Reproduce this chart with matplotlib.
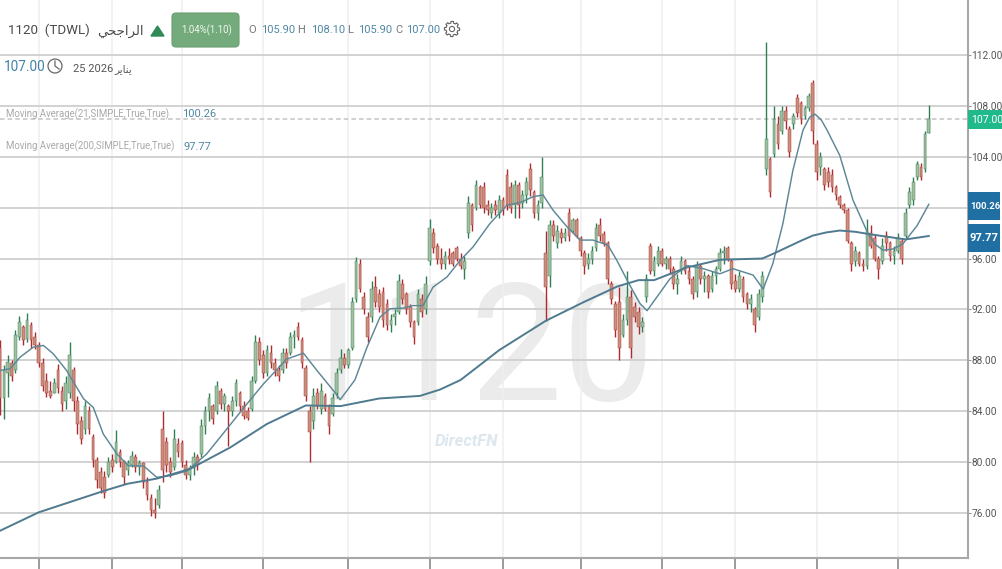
#chart screenshot recreation, tdwl 1120 candles with two moving averages
import matplotlib
matplotlib.use("Agg")
import matplotlib.pyplot as plt
from matplotlib.patches import Circle, FancyBboxPatch, Polygon, Rectangle
import numpy as np

plt.rcParams["font.family"] = ["Roboto", "DejaVu Sans"]

highs = [
    89.6, 87.6, 88.4, 88.0, 90.4, 91.5, 90.8, 91.7, 91.0, 90.2,
    89.4, 88.2, 87.0, 86.4, 86.6, 87.7, 86.0, 86.8, 89.4, 87.5,
    85.2, 83.6, 84.8, 84.4, 82.2, 80.4, 79.6, 79.3, 80.4, 80.6,
    82.5, 81.0, 80.2, 80.2, 80.9, 80.6, 80.2, 80.0, 78.8, 77.5,
    77.2, 78.2, 84.0, 82.0, 80.4, 82.6, 81.9, 81.7, 80.2, 79.8,
    80.8, 80.6, 83.4, 84.4, 85.4, 84.6, 86.4, 85.8, 85.4, 84.6,
    85.2, 86.5, 85.6, 84.8, 84.3, 86.8, 90.0, 89.8, 88.8, 89.2,
    89.2, 88.2, 87.6, 89.0, 89.0, 90.2, 90.4, 91.0, 89.8, 87.6,
    84.4, 85.8, 85.8, 86.2, 85.4, 84.6, 85.4, 87.4, 88.9, 88.6,
    89.0, 93.0, 96.1, 96.0, 93.4, 91.8, 94.2, 94.6, 93.6, 93.8,
    92.8, 91.6, 92.0, 94.8, 94.4, 93.4, 92.4, 91.2, 93.6, 93.2,
    94.6, 99.1, 98.4, 97.2, 96.8, 96.6, 96.8, 96.6, 97.0, 96.4,
    96.2, 100.9, 100.4, 102.2, 101.8, 102.0, 100.6, 100.4, 100.6, 101.0,
    100.8, 103.0, 102.0, 102.2, 102.0, 101.4, 102.4, 103.5, 101.4, 100.6,
    104.0, 98.2, 99.0, 99.0, 98.6, 98.4, 98.4, 100.0, 99.2, 99.2,
    97.8, 96.7, 96.4, 97.0, 98.8, 99.2, 98.2, 97.4, 94.2, 92.7,
    93.8, 91.6, 95.0, 93.5, 92.6, 92.2, 91.4, 94.8, 97.2, 96.2,
    97.0, 96.8, 96.2, 96.2, 95.4, 94.8, 96.2, 96.0, 95.4, 94.6,
    95.8, 95.6, 95.0, 94.8, 95.0, 95.4, 96.8, 97.0, 97.0, 96.0,
    94.8, 95.0, 94.6, 93.4, 93.2, 92.2, 93.6, 95.0, 113.0, 104.0,
    108.0, 107.2, 108.0, 108.0, 106.4, 107.4, 108.9, 108.4, 108.0, 109.0,
    110.0, 105.3, 104.4, 103.2, 103.2, 103.0, 101.8, 101.0, 100.4, 100.0,
    97.4, 97.0, 96.6, 96.0, 99.1, 98.6, 97.9, 96.2, 97.6, 98.2,
    97.4, 97.0, 98.0, 97.6, 100.0, 101.6, 102.4, 103.7, 103.5, 106.0, 108.1,
]
lows = [
    83.7, 83.4, 85.1, 86.4, 87.0, 89.6, 89.2, 89.4, 89.0, 88.9,
    87.5, 85.6, 85.1, 85.0, 85.4, 85.4, 84.0, 84.2, 85.0, 84.0,
    82.2, 81.4, 82.2, 82.2, 79.6, 78.0, 77.6, 77.2, 78.8, 79.2,
    79.9, 79.6, 78.3, 79.0, 79.6, 79.2, 79.0, 78.0, 77.0, 75.8,
    75.6, 76.4, 78.4, 79.2, 78.8, 79.4, 80.4, 79.6, 78.7, 78.6,
    79.0, 79.4, 80.4, 82.2, 83.2, 83.0, 83.8, 84.2, 84.0, 81.3,
    83.6, 84.4, 84.0, 83.4, 83.3, 84.0, 86.2, 87.6, 86.6, 86.8,
    87.4, 86.8, 86.4, 87.0, 87.4, 88.4, 89.0, 89.6, 87.4, 84.8,
    80.0, 82.6, 84.2, 83.8, 84.0, 82.2, 83.6, 85.0, 87.0, 87.4,
    87.4, 88.8, 92.6, 93.4, 91.6, 89.4, 91.0, 92.2, 91.8, 90.6,
    90.4, 90.2, 90.8, 91.6, 92.4, 91.6, 90.6, 89.3, 90.8, 91.4,
    91.6, 95.5, 96.4, 95.6, 95.2, 95.2, 95.6, 95.4, 95.8, 95.2,
    94.4, 97.6, 98.2, 99.8, 100.0, 99.6, 99.4, 99.2, 99.4, 99.2,
    99.4, 99.8, 99.6, 99.2, 99.2, 100.0, 100.4, 100.9, 99.2, 99.0,
    100.0, 91.1, 93.8, 97.4, 96.8, 97.2, 97.4, 97.4, 98.0, 97.6,
    96.2, 94.8, 95.2, 95.6, 96.6, 97.4, 97.0, 94.0, 92.4, 89.8,
    88.0, 89.8, 90.8, 88.2, 91.0, 90.1, 90.2, 92.6, 94.8, 94.6,
    95.4, 95.4, 95.2, 94.8, 93.6, 93.2, 94.8, 94.8, 94.0, 92.8,
    93.0, 94.0, 93.4, 92.9, 93.4, 94.0, 95.0, 95.6, 95.8, 93.6,
    93.4, 93.4, 92.6, 92.0, 91.8, 90.2, 91.2, 92.6, 102.6, 100.8,
    104.0, 104.6, 105.8, 106.2, 104.0, 106.2, 107.1, 106.6, 107.0, 107.6,
    105.0, 102.2, 102.6, 101.4, 101.6, 101.2, 100.6, 100.0, 99.6, 97.2,
    95.0, 95.4, 95.4, 95.0, 95.2, 96.8, 95.8, 94.4, 95.6, 96.6,
    95.8, 95.6, 96.4, 95.6, 97.6, 100.0, 100.2, 102.2, 102.2, 102.8, 105.9,
]
opens = [
    89.0, 85.0, 87.0, 87.8, 87.2, 89.8, 90.6, 89.7, 90.8, 89.8,
    89.2, 87.8, 86.4, 85.6, 85.4, 87.2, 85.6, 84.8, 85.4, 87.2,
    84.8, 83.2, 82.6, 84.0, 82.0, 80.2, 79.2, 78.8, 79.0, 80.2,
    80.0, 80.8, 80.0, 79.4, 79.8, 80.4, 79.6, 79.9, 78.4, 77.2,
    76.2, 76.6, 82.6, 81.6, 80.0, 79.6, 81.4, 81.5, 79.8, 79.0,
    79.5, 80.4, 80.6, 82.8, 84.0, 84.4, 84.0, 85.6, 84.6, 84.4,
    84.0, 84.8, 85.4, 84.4, 84.0, 84.2, 86.4, 89.4, 88.4, 87.0,
    88.6, 87.8, 87.2, 87.2, 88.6, 88.6, 89.8, 90.6, 89.6, 87.4,
    84.0, 83.2, 85.4, 84.2, 85.2, 84.4, 83.8, 85.4, 87.2, 88.2,
    87.6, 89.0, 92.8, 95.6, 93.0, 91.4, 91.4, 93.8, 93.2, 93.4,
    92.4, 90.8, 91.4, 91.8, 94.0, 93.2, 92.2, 91.0, 91.0, 92.8,
    92.0, 95.8, 98.0, 97.0, 96.0, 95.6, 96.2, 96.4, 96.8, 96.0,
    95.2, 98.0, 100.2, 100.0, 101.6, 101.6, 100.2, 99.6, 100.2, 99.6,
    100.6, 102.6, 101.6, 100.2, 101.8, 100.4, 101.0, 103.0, 101.2, 99.6,
    100.4, 96.4, 94.6, 98.6, 97.2, 98.0, 97.6, 99.6, 98.2, 99.0,
    97.6, 96.4, 95.6, 96.0, 96.8, 98.6, 97.9, 97.2, 94.0, 92.4,
    92.6, 90.0, 91.2, 93.0, 92.2, 91.8, 90.6, 93.0, 97.0, 95.0,
    95.6, 96.6, 95.6, 96.0, 95.2, 94.0, 95.0, 95.8, 95.0, 94.4,
    93.4, 95.4, 94.4, 94.6, 93.6, 94.6, 95.2, 96.4, 96.8, 95.8,
    94.2, 93.6, 94.4, 93.2, 92.4, 92.0, 91.4, 93.0, 103.0, 103.8,
    104.2, 106.6, 106.0, 107.6, 106.2, 106.6, 108.6, 108.2, 107.2, 107.8,
    109.8, 105.0, 103.2, 103.0, 102.8, 102.6, 101.6, 100.8, 100.2, 99.8,
    97.2, 95.8, 96.4, 95.6, 95.4, 98.0, 97.6, 96.0, 95.8, 97.8,
    97.2, 96.2, 96.6, 97.4, 97.8, 100.2, 100.6, 102.4, 103.2, 103.0, 105.9,
]
closes = [
    85.0, 87.2, 87.9, 86.8, 90.0, 91.0, 89.6, 91.2, 89.6, 89.2,
    87.8, 86.0, 85.4, 85.2, 86.2, 85.8, 84.6, 86.2, 88.4, 84.8,
    83.0, 81.8, 84.4, 82.6, 80.2, 78.6, 78.0, 77.6, 80.0, 79.6,
    81.6, 80.0, 78.8, 79.9, 80.5, 79.6, 79.9, 78.4, 77.4, 76.2,
    76.0, 77.8, 79.4, 79.8, 79.2, 81.8, 80.8, 80.0, 79.0, 79.5,
    80.4, 79.8, 82.8, 84.0, 85.0, 83.4, 86.0, 84.6, 85.2, 84.0,
    84.8, 86.2, 84.4, 83.6, 83.5, 86.4, 89.4, 88.0, 87.0, 88.8,
    87.8, 87.2, 86.8, 88.6, 87.8, 89.8, 90.0, 89.8, 87.8, 85.2,
    82.4, 85.2, 84.4, 85.6, 84.2, 82.8, 85.0, 87.0, 88.2, 87.6,
    88.8, 92.6, 95.8, 93.6, 92.0, 89.8, 93.6, 92.6, 92.2, 91.2,
    90.8, 91.2, 91.6, 94.2, 92.8, 92.0, 91.0, 89.8, 93.2, 91.8,
    94.0, 98.4, 96.8, 96.0, 95.6, 96.2, 96.0, 95.6, 96.0, 95.4,
    95.8, 100.4, 98.6, 101.8, 100.2, 100.0, 99.8, 100.0, 99.8, 100.6,
    99.8, 100.2, 100.0, 101.8, 100.2, 101.0, 102.0, 101.4, 99.6, 100.2,
    102.4, 93.8, 98.6, 97.8, 98.2, 97.6, 98.0, 97.8, 99.0, 97.8,
    96.6, 95.4, 96.0, 96.6, 98.4, 97.8, 97.2, 94.4, 92.8, 90.4,
    89.0, 91.2, 93.0, 89.0, 91.4, 90.6, 91.0, 94.4, 95.0, 95.8,
    96.6, 95.6, 96.0, 95.2, 94.0, 94.4, 95.8, 95.0, 94.4, 93.2,
    95.4, 94.4, 94.6, 93.4, 94.6, 95.2, 96.4, 96.6, 96.0, 94.0,
    93.6, 94.6, 93.0, 92.4, 92.8, 90.8, 93.2, 94.6, 105.4, 101.2,
    107.0, 105.0, 107.6, 106.8, 104.4, 107.2, 107.4, 107.0, 107.8, 108.8,
    106.0, 102.8, 104.0, 101.8, 102.0, 101.6, 101.0, 100.2, 99.8, 97.4,
    95.6, 96.6, 95.6, 95.4, 98.2, 97.0, 96.0, 95.2, 97.0, 97.2,
    96.2, 96.6, 97.6, 96.0, 99.6, 101.2, 102.0, 103.4, 102.4, 105.8, 107.0,
]

ma21_bars = [0, 2.6, 5.2, 8.6, 11.2, 13.8, 17.2, 21.6, 24.1, 26.7, 30.2, 33.2,
             37.1, 40.5, 44, 48.3, 53.4, 58.6, 63.8, 68.1, 74.1, 78.4, 81.9,
             86.2, 87.9, 91.7, 94.8, 98.2, 100.8, 104.1, 106.7, 109.3, 111.9,
             115.5, 118.9, 122.2, 126.6, 131, 134.4, 137.7, 140.3, 142.9,
             146.5, 149.9, 153.2, 157.1, 159.4, 162.3, 165.4, 167.2, 169.8,
             173.1, 177.5, 181.7, 186, 189.4, 194.6, 197.2, 199.7, 202.3,
             204.9, 207.5, 209.2, 210.6, 212.2, 213.7, 217, 220.4, 224.3,
             226.2, 228.2, 230.8, 233.3, 237, 240]
ma21_vals = [87.2, 87.33, 88.25, 89.03, 89.17, 88.5, 87.2, 84.97, 84.3, 82.2,
             80.64, 79.7, 79.7, 78.8, 78.93, 79.3, 80.64, 82.6, 84.57, 86.15,
             88.1, 88.56, 87.2, 85.6, 84.9, 86.45, 89.0, 91.4, 92.05, 92.1,
             92.3, 92.3, 93.75, 94.55, 95.85, 96.9, 98.75, 100.2, 100.4,
             100.85, 101.0, 99.8, 98.5, 97.45, 97.45, 97.05, 95.85, 94.15,
             92.45, 91.9, 93.0, 94.4, 95.45, 95.2, 94.8, 95.2, 94.7, 93.6,
             95.6, 98.75, 102.95, 106.1, 107.1, 107.35, 106.9, 106.1, 104.1,
             100.6, 97.95, 97.1, 96.65, 96.75, 97.15, 98.6, 100.26]
ma200_bars = [0, 10, 27, 33, 40.5, 49, 59.5, 69, 79, 88, 98, 108.5, 113.7, 119,
              129, 141, 151, 159.5, 165, 169, 177.5, 186, 197, 200, 203.5, 207,
              210, 213.5, 217, 221, 225, 234, 240]
ma200_vals = [74.6, 76.05, 77.75, 78.3, 78.7, 79.45, 81.15, 83.0, 84.45, 84.4,
              85.0, 85.2, 85.7, 86.45, 88.8, 91.1, 92.6, 93.8, 94.3, 94.3,
              95.3, 95.9, 96.0, 96.4, 96.9, 97.4, 97.8, 98.05, 98.2, 98.1,
              97.9, 97.5, 97.77]

price_ticks = [76, 80, 84, 88, 92, 96, 100, 104, 108, 112]
time_ticks = [10, 29, 47, 68, 90, 111, 130, 150, 171, 190, 211, 232]
last_price = 107.0

W, H = 1003, 569
AX_RIGHT, AX_BOTTOM = 968, 558
GRID = "#d2d2d2"
TEAL = "#4f87a3"

fig = plt.figure(figsize=(W / 100, H / 100), dpi=100)
ax = fig.add_axes([0, (H - AX_BOTTOM) / H, AX_RIGHT / W, AX_BOTTOM / H])
ax.set_xlim(0, AX_RIGHT / 3.87)
ax.set_ylim(72.46, 116.32)

#watermark sits under everything
ax.text(121.5, 84.9, "1120", fontsize=118, color="#ebebeb", ha="center",
        va="baseline", zorder=0)
ax.text(120.5, 81.3, "DirectFN", fontsize=12, color="#dde7ef", ha="center",
        va="baseline", style="italic", weight="bold", zorder=0)

#the 100.00 label is hidden behind the blue tag in the reference
ax.set_yticks(price_ticks)
ax.set_yticklabels(["" if p == 100 else f"{p:.2f}" for p in price_ticks],
                   fontsize=7.3, color="#555555")
ax.set_xticks(time_ticks)
ax.set_xticklabels([""] * len(time_ticks))
ax.yaxis.tick_right()
ax.tick_params(axis="y", length=2, width=0.8, color="#999999", pad=0.5)
ax.tick_params(axis="x", length=8, width=1.2, color="#8a8a8a")
ax.grid(True, axis="y", color=GRID, lw=1.4)
ax.grid(True, axis="x", color="#efefef", lw=1.1)
ax.set_axisbelow(True)
for side in ("top", "left"):
    ax.spines[side].set_visible(False)
for side in ("right", "bottom"):
    ax.spines[side].set_color("#a8a8a8")
    ax.spines[side].set_linewidth(1.5)

bars = np.arange(len(closes))
o, c = np.array(opens), np.array(closes)
up = c >= o
wick_colors = np.where(up, "#2f7f54", "#ad2a30")
body_colors = np.where(up, "#a3bf9f", "#c9917c")
ax.vlines(bars, lows, highs, colors=wick_colors, lw=1.0, zorder=2)
ax.bar(bars, np.abs(c - o), bottom=np.minimum(o, c), width=0.7,
       color=body_colors, edgecolor=wick_colors, linewidth=0.3, zorder=3)

ax.plot(ma21_bars, ma21_vals, color="#5d8797", lw=1.05, zorder=4)
ax.plot(ma200_bars, ma200_vals, color="#4f7a8f", lw=1.4, zorder=4)
ax.axhline(last_price, color="#c4c4c4", lw=1.1, ls=(0, (3, 2)), zorder=1)

#header and price tags, laid out in screen pixels
ov = fig.add_axes([0, 0, 1, 1], facecolor="none")
ov.set_xlim(0, W)
ov.set_ylim(H, 0)
ov.axis("off")


def label(x, y, s, size=8, color="#666666", **kw):
    ov.text(x, y, s, fontsize=size, color=color, va="center", **kw)


#arabic written in shaped presentation forms, visual order: no shaping in matplotlib
NAME_AR = "\ufef2\ufea4\ufe9f\ufe8d\ufeae\ufedf\ufe8d"
MONTH_AR = "\ufeae\ufef3\ufe8e\ufee8\ufef3"

label(8, 30, "1120  (TDWL)", size=9.6, color="#4a4a4a")
label(97, 31, NAME_AR, size=9.5, color="#4a4a4a", family="DejaVu Sans")
ov.add_patch(Polygon([(151, 36), (164, 36), (157.5, 26)], color="#2f8a57"))
ov.add_patch(FancyBboxPatch((172, 13), 67, 34, boxstyle="round,pad=0,rounding_size=4",
                            fc="#74ab7c", ec="#6a9f72", lw=0.8))
label(207, 30, "1.04%(1.10)", size=6.9, color="#f2f7f2", ha="center")
for x, s, col in [(248, "O", "#777777"), (261, "105.90", TEAL),
                  (297, "H", "#777777"), (311, "108.10", TEAL),
                  (347, "L", "#777777"), (358, "105.90", TEAL),
                  (395, "C", "#777777"), (406, "107.00", TEAL)]:
    label(x, 30, s, size=8, color=col)

#gear outline
ang = np.linspace(0, 2 * np.pi, 97)
rad = 6 + 1.6 * (np.cos(8 * ang) > 0)
ov.plot(452 + rad * np.cos(ang), 29 + rad * np.sin(ang), color="#666666", lw=0.8)
ov.add_patch(Circle((452, 29), 2.6, fc="none", ec="#666666", lw=0.8))

label(4, 67, "107.00", size=9.8, color="#3f83a6")
ov.add_patch(Circle((55, 66), 7, fc="none", ec="#666666", lw=0.9))
ov.plot([55, 55, 59], [61, 66, 69], color="#666666", lw=0.9)
label(73, 69, "25 2026", size=8, color="#555555")
label(114, 69, MONTH_AR, size=7.5, color="#555555", family="DejaVu Sans")

label(6, 114, "Moving Average(21,SIMPLE,True,True)", size=6.9, color="#a9a9a9")
label(182, 114, "100.26", size=8, color=TEAL)
label(6, 146, "Moving Average(200,SIMPLE,True,True)", size=6.9, color="#a9a9a9")
label(184, 147, "97.77", size=8, color=TEAL)

for y0, y1, x1, s, col, fs in [(110, 129, W, "107.00", "#20b98c", 7.6),
                               (192, 220, 1000, "100.26", "#1f6fa3", 6.8),
                               (224, 252, 1000, "97.77", "#1f6fa3", 8)]:
    ov.add_patch(Rectangle((968, y0), x1 - 968, y1 - y0, fc=col, ec="none"))
    label(970 + (1 if col == "#20b98c" else 0), (y0 + y1) / 2, s, size=fs,
          color="white", weight="bold" if col != "#20b98c" else "normal")

fig.savefig("out.png", dpi=100)
